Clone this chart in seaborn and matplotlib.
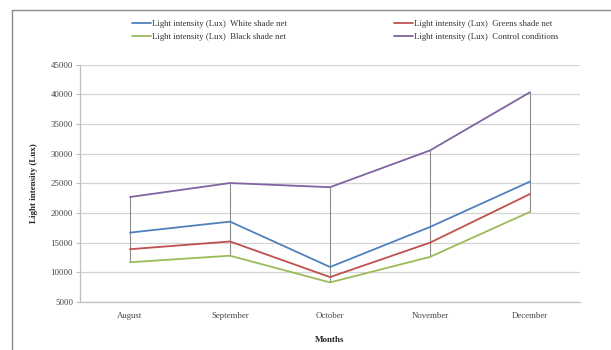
import matplotlib
matplotlib.use("Agg")
import matplotlib.pyplot as plt
from matplotlib.lines import Line2D
import numpy as np
import pandas as pd
import seaborn as sns

months = ["August", "September", "October", "November", "December"]
white_net = [16700, 18550, 10900, 17650, 25300]
green_net = [13900, 15200, 9200, 15000, 23200]
black_net = [11700, 12800, 8300, 12600, 20200]
control = [22700, 25050, 24350, 30550, 40350]

series_names = [
    "Light intensity (Lux)  White shade net",
    "Light intensity (Lux)  Greens shade net",
    "Light intensity (Lux)  Black shade net",
    "Light intensity (Lux)  Control conditions",
]
series_values = [white_net, green_net, black_net, control]
colors = ["#4F81BD", "#C0504D", "#9BBB59", "#8064A2"]

df = pd.concat(
    [pd.DataFrame({"Month": months, "Lux": vals, "Series": name})
     for name, vals in zip(series_names, series_values)],
    ignore_index=True,
)

sns.set_theme(style="white")
plt.rcParams["font.family"] = ["Liberation Serif", "DejaVu Serif"]

fig = plt.figure(figsize=(6.11, 3.5), dpi=100)
ax = fig.add_axes([80 / 611, 1 - 302 / 350, 500 / 611, (302 - 64.7) / 350])

# high-low lines joining the extremes of each month
x_pos = np.arange(len(months))
table = np.array(series_values)
ax.vlines(x_pos, table.min(axis=0), table.max(axis=0), color="#8C8C8C", lw=0.8, zorder=2)

sns.lineplot(data=df, x="Month", y="Lux", hue="Series", palette=colors,
             hue_order=series_names, sort=False, lw=1.3, ax=ax, legend=False, zorder=3)

ax.set_xlim(-0.5, len(months) - 0.5)
ax.set_ylim(5000, 45000)
ax.set_yticks(np.arange(5000, 45001, 5000))
ax.yaxis.grid(True, color="#D4D4D4", lw=0.9)
ax.xaxis.grid(False)
for side in ["top", "right"]:
    ax.spines[side].set_visible(False)
for side in ["left", "bottom"]:
    ax.spines[side].set_color("#BFBFBF")
    ax.spines[side].set_linewidth(0.9)
ax.tick_params(axis="y", left=True, length=3, width=0.8, color="#BFBFBF",
               labelsize=6.3, labelcolor="#444444", pad=2)
ax.tick_params(axis="x", bottom=False, labelsize=6.3, labelcolor="#444444", pad=1)

ax.set_xlabel("Months", fontsize=6.5, fontweight="bold", labelpad=12)
ax.set_ylabel("Light intensity (Lux)", fontsize=6.5, fontweight="bold", labelpad=9)

handles = [Line2D([0], [0], color=c, lw=1.3) for c in colors]
order = [0, 2, 1, 3]
fig.legend([handles[i] for i in order], [series_names[i] for i in order],
           loc="upper left", bbox_to_anchor=(124 / 611, 1 - 12 / 350), ncol=2,
           frameon=False, fontsize=6.3, handlelength=2.2, handletextpad=0.1,
           columnspacing=12.2, labelspacing=0.6, labelcolor="#333333")

# chart area frame
fig.add_artist(Line2D([12 / 611, 1.0], [1 - 10 / 350, 1 - 10 / 350],
                      transform=fig.transFigure, color="#8C8C8C", lw=1.0))
fig.add_artist(Line2D([12 / 611, 12 / 611], [0.0, 1 - 10 / 350],
                      transform=fig.transFigure, color="#8C8C8C", lw=1.0))

fig.savefig("out.png", dpi=100)
